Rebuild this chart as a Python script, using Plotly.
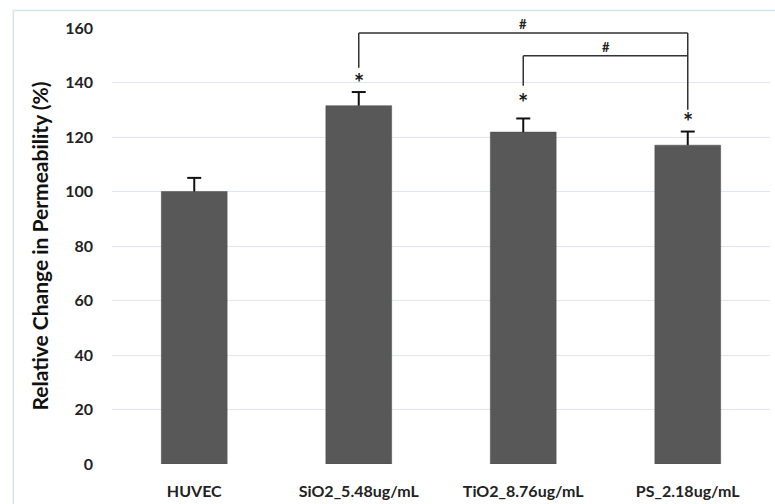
import plotly.graph_objects as go

categories = ["HUVEC", "SiO2_5.48ug/mL", "TiO2_8.76ug/mL", "PS_2.18ug/mL"]
values = [100, 131.5, 121.8, 117.0]
errors = [5.0, 5.0, 5.0, 5.0]
star_y = [None, 141.5, 134.0, 127.3]
# brackets: left category, right category, top height, leg bottoms, label height
bracket_left = ["SiO2_5.48ug/mL", "TiO2_8.76ug/mL"]
bracket_right = ["PS_2.18ug/mL", "PS_2.18ug/mL"]
bracket_top = [158.2, 149.8]
bracket_left_bottom = [145.4, 138.8]
bracket_right_bottom = [130.0, 149.8]
bracket_label_y = [158.2, 149.8]
yticks = [0, 20, 40, 60, 80, 100, 120, 140, 160]

FONT = "Lato, 'Open Sans', sans-serif"

fig = go.Figure()
fig.add_trace(go.Bar(
    x=categories, y=values,
    marker=dict(color="#585858", line=dict(color="#4a4a4a", width=0.5)),
    width=0.4,
))

# upward-only error bars: stem + cap
ex, ey = [], []
for c, v, e in zip(categories, values, errors):
    ex += [c, c, None]
    ey += [v, v + e, None]
fig.add_trace(go.Scatter(x=ex, y=ey, mode="lines",
                         line=dict(color="#111111", width=2), hoverinfo="skip"))
fig.add_trace(go.Scatter(x=categories, y=[v + e for v, e in zip(values, errors)],
                         mode="markers",
                         marker=dict(symbol="line-ew-open", size=10, color="#111111",
                                     line=dict(color="#111111", width=2)),
                         hoverinfo="skip"))

shapes = []
annotations = []
for c, s in zip(categories, star_y):
    if s is not None:
        annotations.append(dict(x=c, y=s, text="<b>*</b>", showarrow=False,
                                font=dict(size=24, color="#1a1a1a", family=FONT),
                                xref="x", yref="y", yanchor="middle", yshift=-4))

for l, r, t, lb, rb, ly in zip(bracket_left, bracket_right, bracket_top,
                               bracket_left_bottom, bracket_right_bottom, bracket_label_y):
    line = dict(color="#333333", width=1.5)
    shapes.append(dict(type="line", xref="x", yref="y", x0=l, x1=r, y0=t, y1=t, line=line))
    shapes.append(dict(type="line", xref="x", yref="y", x0=l, x1=l, y0=t, y1=lb, line=line))
    shapes.append(dict(type="line", xref="x", yref="y", x0=r, x1=r, y0=t, y1=rb, line=line))
    li = categories.index(l)
    ri = categories.index(r)
    annotations.append(dict(x=(li + ri) / 2, y=ly, text="<b>#</b>", showarrow=False,
                            xref="x", yref="y", yanchor="bottom", yshift=-1,
                            font=dict(size=13, color="#222222", family=FONT)))

# outer chart border (left and top visible)
shapes.append(dict(type="rect", xref="paper", yref="paper",
                   x0=-0.15, x1=1.2, y0=-0.2, y1=1.04,
                   line=dict(color="#d6e3f0", width=1.5), layer="below"))

fig.update_layout(
    width=775, height=504,
    margin=dict(l=112, r=5, t=28, b=40),
    paper_bgcolor="white", plot_bgcolor="white",
    showlegend=False,
    shapes=shapes,
    annotations=annotations,
    font=dict(family=FONT, color="#222222"),
)
fig.update_yaxes(
    range=[0, 160], tickvals=yticks, showgrid=True, gridcolor="#dde7f3", gridwidth=1,
    zeroline=False, showline=False, ticks="",
    tickfont=dict(size=16, family=FONT, color="#222222", weight="bold"),
    ticklabelstandoff=18,
    title=dict(text="<b>Relative Change in Permeability (%)</b>",
               font=dict(size=21, family=FONT, color="#111111"), standoff=10),
)
fig.update_xaxes(
    showgrid=False, showline=False, ticks="", zeroline=False,
    tickfont=dict(size=16, family=FONT, color="#222222", weight="bold"),
    ticklabelstandoff=16,
)

fig.write_html("out.html")
